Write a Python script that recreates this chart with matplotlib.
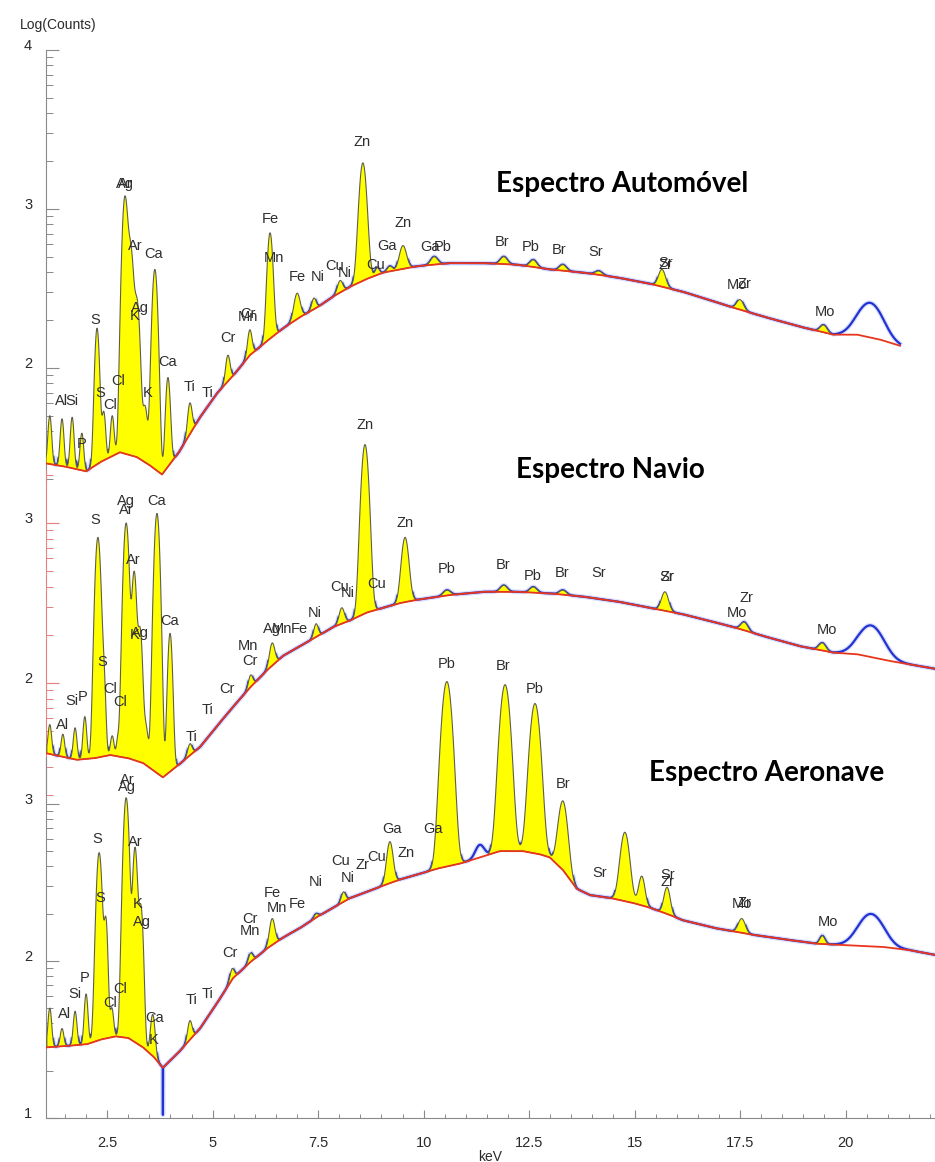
import numpy as np
import matplotlib
matplotlib.use("Agg")
import matplotlib.pyplot as plt
from matplotlib.ticker import FixedLocator, NullLocator

# ---------------- Espectro Automóvel ----------------
auto_bg_kev = [1.05, 1.5, 2.0, 2.35, 2.8, 3.2, 3.5, 3.8, 4.2, 4.7, 5.1, 5.48, 5.88, 6.29, 6.67,
               7.07, 7.47, 7.86, 8.25, 8.65, 9.04, 9.45, 9.84, 10.62, 11.41, 12.21, 12.99, 13.78,
               14.58, 15.36, 16.14, 16.75, 17.33, 18.1, 18.92, 19.70, 20.27, 20.8, 21.29]
auto_bg_log = [1.40, 1.38, 1.35, 1.41, 1.47, 1.44, 1.39, 1.33, 1.47, 1.69, 1.84, 1.95, 2.08, 2.17, 2.25,
               2.32, 2.38, 2.45, 2.51, 2.56, 2.60, 2.62, 2.64, 2.66, 2.66, 2.65, 2.62, 2.60,
               2.57, 2.53, 2.48, 2.43, 2.38, 2.32, 2.26, 2.21, 2.21, 2.18, 2.14]
auto_pk_kev = [1.14, 1.43, 1.67, 1.90, 2.26, 2.42, 2.62, 2.92, 3.06, 3.21, 3.40, 3.63, 3.94, 4.46,
               5.36, 5.88, 6.36, 7.00, 7.40, 8.02, 8.56, 8.90, 9.20, 9.51, 10.25, 11.90, 12.60,
               13.30, 14.15, 15.65, 17.50, 19.48]
auto_pk_log = [1.70, 1.68, 1.69, 1.59, 2.25, 1.72, 1.70, 3.07, 2.72, 2.40, 1.75, 2.62, 1.94, 1.78,
               2.08, 2.24, 2.85, 2.47, 2.44, 2.55, 3.29, 2.63, 2.64, 2.77, 2.70, 2.70, 2.68,
               2.65, 2.61, 2.62, 2.43, 2.27]
auto_pk_sig = [0.04, 0.04, 0.04, 0.04, 0.05, 0.04, 0.04, 0.06, 0.06, 0.06, 0.05, 0.06, 0.05, 0.05,
               0.05, 0.05, 0.06, 0.07, 0.05, 0.06, 0.08, 0.05, 0.06, 0.08, 0.08, 0.08, 0.08,
               0.08, 0.08, 0.08, 0.08, 0.08]
auto_bump_kev = [20.58]
auto_bump_log = [2.41]
auto_bump_sig = [0.28]
auto_dip_kev = []
auto_dip_log = []
auto_lbl = ["Ag", "Ar", "Ar", "Ca", "Ag", "K", "S", "Ca", "Cl", "S", "Cl", "K", "Ti", "Ti", "Cr",
            "Mn", "Cr", "Al", "Si", "P", "Fe", "Mn", "Fe", "Ni", "Cu", "Ni", "Zn", "Cu", "Ga", "Zn",
            "Ga", "Pb", "Br", "Pb", "Br", "Sr", "Zr", "Sr", "Mo", "Zr", "Mo"]
auto_lbl_kev = [2.92, 2.92, 3.16, 3.59, 3.28, 3.16, 2.21, 3.94, 2.76, 2.33, 2.57, 3.47, 4.46, 4.87, 5.36,
                5.84, 5.84, 1.41, 1.67, 1.90, 6.36, 6.45, 7.00, 7.50, 7.90, 8.14, 8.54, 8.87, 9.13, 9.51,
                10.15, 10.46, 11.86, 12.54, 13.21, 14.08, 15.74, 15.74, 17.42, 17.60, 19.51]
auto_lbl_log = [3.16, 3.16, 2.77, 2.72, 2.38, 2.33, 2.30, 2.04, 1.92, 1.84, 1.77, 1.84, 1.88, 1.84, 2.19,
                2.32, 2.34, 1.79, 1.79, 1.52, 2.94, 2.69, 2.57, 2.57, 2.64, 2.60, 3.42, 2.65, 2.77, 2.91,
                2.76, 2.76, 2.79, 2.76, 2.74, 2.73, 2.65, 2.66, 2.52, 2.53, 2.35]

# ---------------- Espectro Navio ----------------
navio_bg_kev = [1.07, 1.78, 2.2, 2.57, 3.0, 3.35, 3.82, 4.2, 4.70, 5.1, 5.48, 5.88, 6.29, 6.67, 7.07,
                7.47, 7.86, 8.25, 8.65, 9.04, 9.45, 9.84, 10.62, 11.41, 12.21, 12.99, 13.78, 14.58,
                15.36, 16.14, 16.75, 17.33, 18.1, 18.92, 19.70, 20.27, 21.0, 22.1]
navio_bg_log = [1.56, 1.52, 1.53, 1.55, 1.53, 1.50, 1.41, 1.49, 1.60, 1.73, 1.85, 1.97, 2.08, 2.17, 2.23,
                2.29, 2.35, 2.39, 2.44, 2.47, 2.50, 2.52, 2.55, 2.57, 2.57, 2.56, 2.54, 2.51,
                2.47, 2.43, 2.39, 2.35, 2.29, 2.23, 2.19, 2.18, 2.14, 2.09]
navio_pk_kev = [1.14, 1.45, 1.74, 1.97, 2.28, 2.42, 2.62, 2.75, 2.95, 3.14, 3.28, 3.42, 3.68, 3.99,
                4.46, 5.90, 6.41, 7.45, 8.06, 8.61, 9.56, 10.55, 11.90, 12.60, 13.30, 15.72, 17.60,
                19.45]
navio_pk_log = [1.74, 1.68, 1.72, 1.79, 2.91, 2.00, 1.67, 1.64, 3.00, 2.69, 2.33, 1.72, 3.06, 2.31,
                1.62, 2.05, 2.25, 2.37, 2.47, 3.49, 2.91, 2.58, 2.61, 2.60, 2.58, 2.57, 2.38,
                2.25]
navio_pk_sig = [0.04, 0.04, 0.04, 0.04, 0.06, 0.04, 0.04, 0.03, 0.06, 0.05, 0.05, 0.05, 0.06, 0.05,
                0.05, 0.05, 0.06, 0.05, 0.06, 0.08, 0.08, 0.08, 0.08, 0.08, 0.08, 0.08, 0.08,
                0.08]
navio_bump_kev = [20.6]
navio_bump_log = [2.36]
navio_bump_sig = [0.28]
navio_dip_kev = []
navio_dip_log = []
navio_lbl = ["Ag", "Ar", "S", "Ca", "Ar", "K", "Ag", "Ca", "S", "Cl", "Cl", "Si", "P", "Al", "Ti", "Ti",
             "Cr", "Mn", "Cr", "Ag", "Mn", "Fe", "Ni", "Cu", "Ni", "Zn", "Cu", "Zn", "Pb", "Br", "Pb",
             "Br", "Sr", "Zr", "Sr", "Zr", "Mo", "Mo"]
navio_lbl_kev = [2.95, 2.95, 2.21, 3.68, 3.11, 3.14, 3.28, 3.99, 2.38, 2.57, 2.80, 1.67, 1.92, 1.45, 4.51,
                 4.89, 5.34, 5.84, 5.88, 6.41, 6.64, 7.05, 7.42, 8.02, 8.21, 8.61, 8.89, 9.56, 10.55,
                 11.88, 12.59, 13.28, 14.15, 15.77, 15.77, 17.66, 17.42, 19.56]
navio_lbl_log = [3.14, 3.08, 3.02, 3.14, 2.77, 2.30, 2.31, 2.39, 2.13, 1.96, 1.88, 1.89, 1.91, 1.74, 1.66,
                 1.83, 1.96, 2.23, 2.14, 2.34, 2.34, 2.34, 2.44, 2.60, 2.56, 3.61, 2.62, 3.00, 2.71,
                 2.74, 2.67, 2.69, 2.69, 2.66, 2.66, 2.53, 2.44, 2.33]

# ---------------- Espectro Aeronave ----------------
aero_bg_kev = [1.07, 1.6, 2.02, 2.35, 2.7, 3.0, 3.35, 3.6, 3.82, 4.2, 4.70, 5.1, 5.48, 5.88, 6.29, 6.67,
               7.07, 7.47, 7.86, 8.25, 8.65, 9.04, 9.45, 9.84, 10.35, 10.86, 11.33, 11.81, 12.35, 12.75,
               12.99, 13.3, 13.63, 13.94, 14.45, 14.96, 15.36, 15.77, 16.14, 16.9, 17.73, 18.5, 19.32,
               20.1, 20.88, 21.5, 22.1]
aero_bg_log = [1.45, 1.46, 1.47, 1.50, 1.52, 1.51, 1.45, 1.39, 1.32, 1.42, 1.57, 1.73, 1.89, 1.99, 2.08, 2.15,
               2.21, 2.28, 2.34, 2.40, 2.44, 2.48, 2.52, 2.55, 2.59, 2.62, 2.66, 2.70, 2.70, 2.68,
               2.66, 2.58, 2.46, 2.42, 2.40, 2.37, 2.34, 2.30, 2.26, 2.21, 2.17, 2.14, 2.11,
               2.10, 2.09, 2.07, 2.04]
aero_pk_kev = [1.14, 1.43, 1.74, 2.00, 2.31, 2.47, 2.61, 2.95, 3.16, 3.30, 3.58, 4.46, 5.46, 5.90, 6.41,
               7.45, 8.10, 9.20, 10.55, 11.93, 12.64, 13.30, 14.77, 15.17, 15.77, 17.54, 19.45]
aero_pk_log = [1.70, 1.57, 1.68, 1.79, 2.69, 2.25, 1.70, 3.04, 2.72, 2.34, 1.66, 1.62, 1.95, 2.05, 2.27,
               2.30, 2.44, 2.76, 3.78, 3.76, 3.64, 3.02, 2.82, 2.54, 2.47, 2.27, 2.16]
aero_pk_sig = [0.04, 0.04, 0.04, 0.04, 0.06, 0.04, 0.04, 0.06, 0.05, 0.05, 0.05, 0.05, 0.05, 0.05, 0.06,
               0.05, 0.05, 0.07, 0.11, 0.11, 0.11, 0.10, 0.10, 0.07, 0.07, 0.08, 0.06]
aero_bump_kev = [11.33, 20.6]
aero_bump_log = [2.74, 2.30]
aero_bump_sig = [0.10, 0.28]
aero_dip_kev = [3.82]
aero_dip_log = [1.02]
aero_lbl = ["Ag", "Ar", "S", "Ar", "S", "K", "Ag", "P", "Si", "Cl", "Cl", "Al", "Ca", "K", "Ti", "Ti",
            "Cr", "Cr", "Mn", "Fe", "Mn", "Fe", "Ni", "Cu", "Ni", "Zr", "Cu", "Zn", "Ga", "Ga", "Pb",
            "Br", "Pb", "Br", "Sr", "Sr", "Zr", "Mo", "Zr", "Mo"]
aero_lbl_kev = [2.97, 2.97, 2.26, 3.16, 2.33, 3.21, 3.32, 1.97, 1.74, 2.80, 2.57, 1.50, 3.63, 3.59, 4.51,
                4.89, 5.41, 5.88, 5.88, 6.41, 6.52, 7.00, 7.45, 8.04, 8.21, 8.56, 8.89, 9.58, 9.25,
                10.22, 10.55, 11.88, 12.64, 13.30, 14.18, 15.79, 15.79, 17.54, 17.60, 19.58]
aero_lbl_log = [3.11, 3.15, 2.78, 2.76, 2.40, 2.36, 2.25, 1.89, 1.79, 1.82, 1.73, 1.66, 1.64, 1.50, 1.75,
                1.79, 2.05, 2.27, 2.19, 2.43, 2.34, 2.36, 2.50, 2.64, 2.53, 2.61, 2.66, 2.69, 2.84,
                2.84, 3.89, 3.88, 3.73, 3.13, 2.56, 2.55, 2.50, 2.36, 2.37, 2.25]

y_major_ticks = {"auto": [2, 3, 4], "navio": [2, 3], "aero": [1, 2, 3]}
x_ticks = [2.5, 5, 7.5, 10, 12.5, 15, 17.5, 20]
x_ticklabels = ["2.5", "5", "7.5", "10", "12.5", "15", "17.5", "20"]

# ---------------- figure ----------------
W, H = 935, 1162
fig = plt.figure(figsize=(W / 100, H / 100), dpi=100)
X_LEFT = 46
XLIM = (1.05, 22.12)

TICK_FONT = "Liberation Sans"
LBL_COLOR = "#2e2e2e"
BLUE = "#2233d0"
RED = "#e8361c"
YELLOW = "#ffff00"


def make_axes(top_px, bottom_px, ylim):
    ax = fig.add_axes([X_LEFT / W, 1 - bottom_px / H, 1 - X_LEFT / W, (bottom_px - top_px) / H])
    ax.set_xlim(*XLIM)
    ax.set_ylim(*ylim)
    ax.patch.set_alpha(0)
    for s in ("top", "right"):
        ax.spines[s].set_visible(False)
    return ax


def spectrum(bg_kev, bg_log, pk_kev, pk_log, pk_sig, bump_kev, bump_log, bump_sig, dip_kev, dip_log):
    e = np.linspace(bg_kev[0], bg_kev[-1], 5000)
    bg = np.interp(e, bg_kev, bg_log)
    peaks = np.zeros_like(e)
    for c, top, s in zip(pk_kev, pk_log, pk_sig):
        amp = max(10 ** top - 10 ** np.interp(c, bg_kev, bg_log), 0.0)
        peaks += amp * np.exp(-0.5 * ((e - c) / s) ** 2)
    bumps = np.zeros_like(e)
    for c, top, s in zip(bump_kev, bump_log, bump_sig):
        amp = max(10 ** top - 10 ** np.interp(c, bg_kev, bg_log), 0.0)
        bumps += amp * np.exp(-0.5 * ((e - c) / s) ** 2)
    spec_pk = np.log10(10 ** bg + peaks)
    spec_all = np.log10(10 ** bg + peaks + bumps)
    for c, v in zip(dip_kev, dip_log):
        spec_all[np.argmin(np.abs(e - c))] = v
    return e, bg, spec_pk, spec_all


def draw_panel(ax, data, labels):
    e, bg, spec_pk, spec_all = spectrum(*data)
    excess = spec_pk - bg
    # raw counts trace (blue), hidden under the identified peak areas
    blue = np.where(excess > 0.05, np.nan, spec_all)
    ax.plot(e, blue, color="#7080ff", lw=3.4, alpha=0.25, zorder=2, solid_joinstyle="round")
    ax.plot(e, blue, color=BLUE, lw=1.6, zorder=2.1)
    # identified peaks (yellow areas)
    ax.fill_between(e, bg, spec_pk, where=excess > 0.006, interpolate=True,
                    facecolor=YELLOW, edgecolor="#5f5f48", lw=0.8, zorder=3)
    # continuum (red)
    ax.plot(e, bg, color=RED, lw=1.3, zorder=4)
    txt, lk, ll = labels
    for t, k, v in zip(txt, lk, ll):
        ax.text(k, v, t, ha="center", va="center", fontsize=10.5, color=LBL_COLOR,
                family="Liberation Sans", clip_on=False, zorder=6)


def style_y(ax, majors, spine_top, spine_color):
    lo = ax.get_ylim()[0]
    ax.spines["left"].set_color(spine_color)
    ax.spines["left"].set_bounds(lo, spine_top)
    minors = [n + np.log10(k) for n in range(0, 5) for k in range(2, 10)]
    minors = [m for m in minors if lo <= m <= spine_top]
    ax.yaxis.set_major_locator(FixedLocator(majors))
    ax.yaxis.set_minor_locator(FixedLocator(minors))
    ax.set_yticklabels([str(m) for m in majors], va="baseline", family=TICK_FONT)
    ax.tick_params(axis="y", which="major", direction="in", length=9, width=0.8,
                   color=spine_color, labelsize=10.5, labelcolor="#2a2a2a", pad=10)
    ax.tick_params(axis="y", which="minor", direction="in", length=5, width=0.7, color=spine_color)


# Automóvel
ax1 = make_axes(50, 50 + 2.72 * 159, (1.28, 4.0))
draw_panel(ax1, (auto_bg_kev, auto_bg_log, auto_pk_kev, auto_pk_log, auto_pk_sig,
                 auto_bump_kev, auto_bump_log, auto_bump_sig, auto_dip_kev, auto_dip_log),
           (auto_lbl, auto_lbl_kev, auto_lbl_log))
style_y(ax1, y_major_ticks["auto"], 4.0, "#8a8a8a")
ax1.spines["bottom"].set_visible(False)
ax1.xaxis.set_major_locator(NullLocator())
ax1.xaxis.set_minor_locator(NullLocator())

# Navio
ax2 = make_axes(523 - 0.62 * 160, 523 + 1.70 * 160, (1.30, 3.62))
draw_panel(ax2, (navio_bg_kev, navio_bg_log, navio_pk_kev, navio_pk_log, navio_pk_sig,
                 navio_bump_kev, navio_bump_log, navio_bump_sig, navio_dip_kev, navio_dip_log),
           (navio_lbl, navio_lbl_kev, navio_lbl_log))
style_y(ax2, y_major_ticks["navio"], 3.33, "#e88080")
ax2.spines["bottom"].set_visible(False)
ax2.xaxis.set_major_locator(NullLocator())
ax2.xaxis.set_minor_locator(NullLocator())

# Aeronave
ax3 = make_axes(1118 - 2.95 * 157, 1118, (1.0, 3.95))
draw_panel(ax3, (aero_bg_kev, aero_bg_log, aero_pk_kev, aero_pk_log, aero_pk_sig,
                 aero_bump_kev, aero_bump_log, aero_bump_sig, aero_dip_kev, aero_dip_log),
           (aero_lbl, aero_lbl_kev, aero_lbl_log))
style_y(ax3, y_major_ticks["aero"], 3.3, "#8a8a8a")
ax3.spines["bottom"].set_color("#8a8a8a")
ax3.xaxis.set_major_locator(FixedLocator(x_ticks))
ax3.xaxis.set_minor_locator(FixedLocator(list(np.arange(1.5, 22.1, 0.5))))
ax3.set_xticklabels(x_ticklabels, family=TICK_FONT)
ax3.tick_params(axis="x", which="major", direction="in", length=6, width=0.8, color="#8a8a8a",
                labelsize=10.5, labelcolor="#2a2a2a", pad=13)
ax3.tick_params(axis="x", which="minor", direction="in", length=3, width=0.7, color="#8a8a8a")
ax3.set_xlabel("keV", fontsize=10, family=TICK_FONT, color="#2a2a2a", labelpad=0)

fig.text(58 / W, 1 - 25 / H, "Log(Counts)", ha="center", va="center", fontsize=10,
         family=TICK_FONT, color="#2a2a2a")

title_kw = dict(ha="center", va="center", fontsize=20, fontweight="bold", family="Lato", color="black")
fig.text(622 / W, 1 - 184 / H, "Espectro Automóvel", **title_kw)
fig.text(610 / W, 1 - 470 / H, "Espectro Navio", **title_kw)
fig.text(767 / W, 1 - 773 / H, "Espectro Aeronave", **title_kw)

fig.savefig("out.png", dpi=100)
